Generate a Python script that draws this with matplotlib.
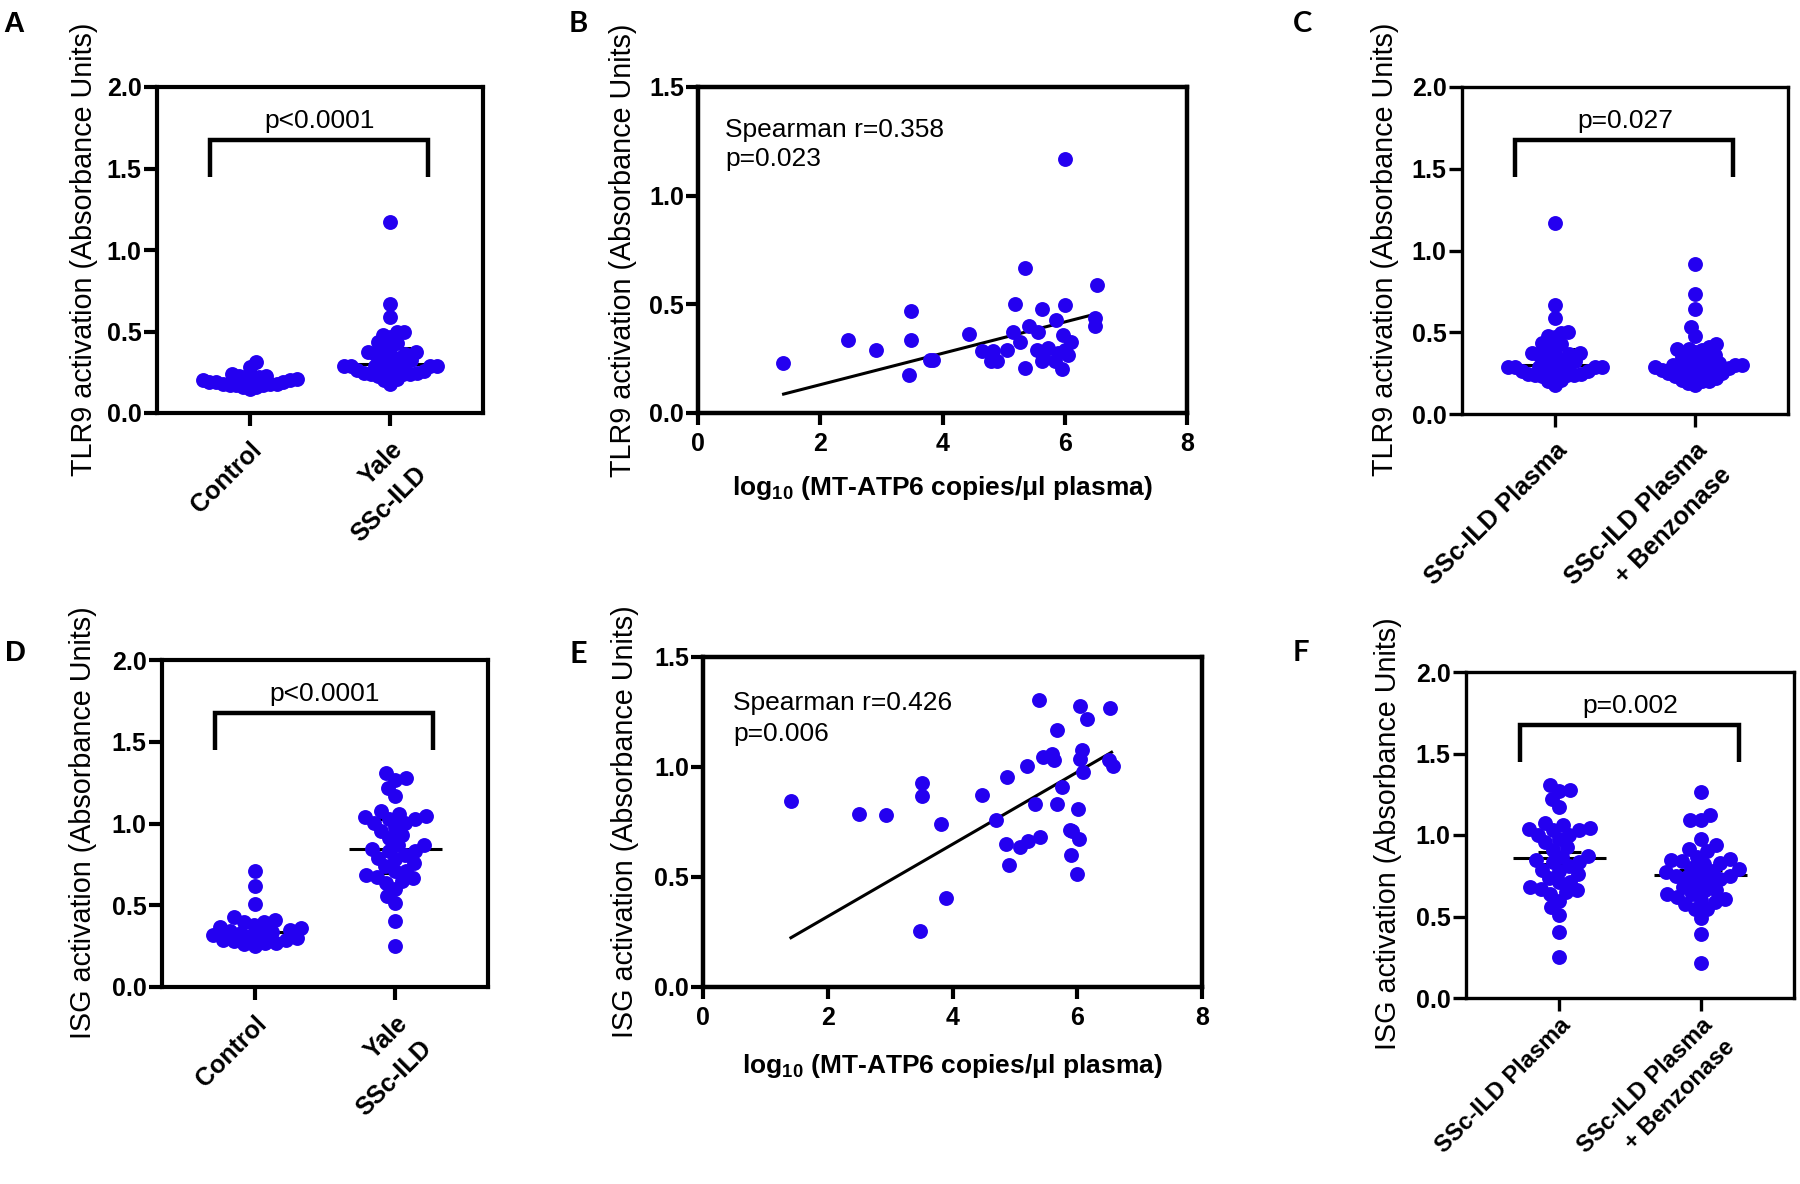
import numpy as np
import matplotlib
matplotlib.use("Agg")
import matplotlib.pyplot as plt
from matplotlib.font_manager import FontProperties

plt.rcParams['font.family'] = ['Liberation Sans', 'DejaVu Sans']
plt.rcParams['mathtext.default'] = 'regular'

# ---- data ----
tlr9_control = [0.31, 0.28, 0.24, 0.23, 0.23, 0.22, 0.22, 0.21, 0.21, 0.20, 0.20, 0.19,
                0.19, 0.19, 0.18, 0.18, 0.18, 0.17, 0.17, 0.17, 0.16, 0.16, 0.15]
# SSc-ILD plasma: TLR9 activation and log10 MT-ATP6 (same subjects, panels A/B/C)
tlr9_ssc = [1.17, 0.667, 0.588, 0.50, 0.497, 0.48, 0.469, 0.437, 0.429, 0.40, 0.40, 0.364,
            0.372, 0.372, 0.36, 0.336, 0.336, 0.325, 0.325, 0.29, 0.29, 0.283, 0.286, 0.29,
            0.30, 0.29, 0.275, 0.245, 0.245, 0.24, 0.24, 0.24, 0.237, 0.23, 0.206, 0.203,
            0.175, 0.26, 0.265]
mtdna_tlr9 = [6.01, 5.35, 6.53, 5.18, 6.00, 5.62, 3.48, 6.49, 5.85, 5.41, 6.49, 4.44,
              5.16, 5.57, 5.97, 2.46, 3.49, 5.27, 6.10, 2.92, 5.05, 4.64, 4.83, 5.54,
              5.72, 6.00, 5.89, 3.80, 3.85, 4.80, 4.89, 5.62, 5.84, 1.39, 5.35, 5.96,
              3.46, 5.65, 6.05]
tlr9_benz = [0.915, 0.733, 0.641, 0.531, 0.477, 0.426, 0.41, 0.40, 0.40, 0.39, 0.38, 0.36,
             0.35, 0.34, 0.33, 0.32, 0.31, 0.31, 0.30, 0.30, 0.30, 0.29, 0.29, 0.28, 0.28,
             0.27, 0.27, 0.26, 0.26, 0.25, 0.25, 0.24, 0.23, 0.22, 0.21, 0.20, 0.20, 0.19, 0.18]

isg_control = [0.71, 0.62, 0.51, 0.43, 0.41, 0.40, 0.40, 0.38, 0.37, 0.36, 0.35, 0.34, 0.335,
               0.33, 0.33, 0.32, 0.31, 0.30, 0.29, 0.29, 0.28, 0.27, 0.27, 0.26, 0.25]
# SSc-ILD plasma: ISG activation and log10 MT-ATP6 (panels D/E/F)
isg_ssc = [0.844, 0.788, 0.780, 0.927, 0.868, 0.739, 0.406, 0.253, 0.871, 0.758, 0.955,
           0.648, 0.556, 0.635, 0.664, 0.682, 1.003, 0.833, 1.306, 1.045, 1.061, 1.03, 1.17,
           0.909, 0.833, 0.712, 0.71, 0.598, 0.512, 0.808, 0.671, 1.276, 1.22, 1.076, 1.038,
           0.977, 1.268, 1.03, 1.003]
mtdna_isg = [1.41, 2.50, 2.94, 3.51, 3.51, 3.82, 3.89, 3.48, 4.48, 4.70, 4.87, 4.85, 4.90,
             5.08, 5.21, 5.40, 5.19, 5.32, 5.38, 5.45, 5.59, 5.63, 5.67, 5.76, 5.67, 5.89,
             5.92, 5.90, 6.00, 6.02, 6.03, 6.05, 6.15, 6.07, 6.05, 6.09, 6.52, 6.51, 6.58]
isg_benz = [1.266, 1.125, 1.09, 1.09, 0.977, 0.94, 0.913, 0.90, 0.868, 0.85, 0.848, 0.84,
            0.83, 0.82, 0.80, 0.79, 0.78, 0.77, 0.76, 0.75, 0.75, 0.74, 0.73, 0.72, 0.70,
            0.68, 0.66, 0.66, 0.64, 0.64, 0.62, 0.61, 0.60, 0.59, 0.575, 0.545, 0.545,
            0.49, 0.393, 0.216]

# fitted lines as drawn in the figure (end points)
fit_x_tlr9 = [1.40, 6.50]
fit_y_tlr9 = [0.087, 0.455]
fit_x_isg = [1.41, 6.55]
fit_y_isg = [0.224, 1.067]

cats_cohort = ['Control', 'Yale\nSSc-ILD']
cats_benz = ['SSc-ILD Plasma', 'SSc-ILD Plasma\n+ Benzonase']
p_texts = ['p<0.0001', 'p=0.027', 'p<0.0001', 'p=0.002']
spearman_texts = [('Spearman r=0.358', 'p=0.023'), ('Spearman r=0.426', 'p=0.006')]
ylab_tlr9 = 'TLR9 activation (Absorbance Units)'
ylab_isg = 'ISG activation (Absorbance Units)'
xlab_mt = r'log$_{\mathregular{10}}$ (MT-ATP6 copies/μl plasma)'
bar_ticks = [0, 0.5, 1.0, 1.5, 2.0]
sc_yticks = [0, 0.5, 1.0, 1.5]
sc_xticks = [0, 2, 4, 6, 8]

BLUE = '#2400F0'
DOT = 115
W, H = 1800, 1184
fig = plt.figure(figsize=(W / 100, H / 100), dpi=100)

fp_tick = FontProperties(family='Liberation Sans', weight='bold', size=18)
fp_xlab = FontProperties(family='Liberation Sans', weight='bold', size=19)


def add_ax(l, t, r, b):
    return fig.add_axes([l / W, 1 - b / H, (r - l) / W, (b - t) / H])


def ftext(x, y, s, **kw):
    return fig.text(x / W, 1 - y / H, s, **kw)


def swarm_offsets(ax, xc, vals, diam=14.5, gap=0.72, maxw=0.335):
    vals = np.asarray(vals, float)
    ypix = ax.transData.transform(np.column_stack([np.full(vals.size, xc), vals]))[:, 1]
    ppu = ax.transData.transform([[1, 0]])[0, 0] - ax.transData.transform([[0, 0]])[0, 0]
    dmin = diam * gap
    steps = np.arange(1, 400)
    px, py = [], []
    offs = np.zeros(vals.size)
    for k, i in enumerate(np.argsort(vals, kind='stable')):
        y = ypix[i]
        sgn = 1 if k % 2 == 0 else -1
        cands = np.concatenate([[0], np.column_stack([sgn * steps, -sgn * steps]).ravel()])
        best = 0
        if px:
            qx = np.array(px)
            qy = np.array(py)
            near = np.abs(qy - y) < dmin
            qx, qy = qx[near], qy[near]
            for c in cands:
                if np.all((c - qx) ** 2 + (y - qy) ** 2 >= dmin ** 2):
                    best = c
                    break
        px.append(best)
        py.append(y)
        offs[i] = best / ppu
    widest = np.abs(offs).max()
    if widest > maxw:
        offs *= maxw / widest
    return offs


def summary(ax, xc, vals, stat):
    vals = np.asarray(vals, float)
    if stat == 'median':
        mid = np.median(vals)
        lo, hi = np.percentile(vals, [25, 75])
    else:
        mid = vals.mean()
        sem = vals.std(ddof=1) / np.sqrt(vals.size)
        lo, hi = mid - sem, mid + sem
    kw = dict(color='k', lw=2.2, zorder=2, solid_capstyle='butt')
    ax.plot([xc - 0.33, xc + 0.33], [mid, mid], **kw)
    ax.plot([xc - 0.15, xc + 0.15], [hi, hi], **kw)
    ax.plot([xc - 0.15, xc + 0.15], [lo, lo], **kw)
    ax.plot([xc, xc], [lo, hi], **kw)


def bar_panel(rect, groups, cats, ptext, stat, lw, catpad=8, catsize=18, catls=1.55):
    ax = add_ax(*rect)
    ax.set_xlim(-0.66, 1.66)
    ax.set_ylim(0, 2)
    ax.set_yticks(bar_ticks)
    ax.set_yticklabels(['%.1f' % v for v in bar_ticks], fontproperties=fp_tick)
    ax.set_xticks([0, 1])
    fp_cat = FontProperties(family='Liberation Sans', weight='bold', size=catsize)
    ax.set_xticklabels(cats, fontproperties=fp_cat, rotation=45, ha='right', va='top',
                       rotation_mode='anchor', linespacing=catls)
    ax.tick_params(axis='y', length=9.5, width=lw, pad=1.5)
    ax.tick_params(axis='x', length=9.5, width=lw, pad=catpad)
    for s in ax.spines.values():
        s.set_linewidth(lw)
    for i, vals in enumerate(groups):
        summary(ax, i, vals, stat)
        offs = swarm_offsets(ax, i, vals)
        ax.scatter(i + offs, vals, s=DOT, color=BLUE, linewidths=0, zorder=3)
    ax.plot([-0.28, -0.28, 1.27, 1.27], [1.45, 1.675, 1.675, 1.45], color='k', lw=3.2,
            solid_joinstyle='miter', solid_capstyle='butt')
    ax.text(0.5, 1.75, ptext, ha='center', va='baseline', fontsize=19)
    return ax


def scatter_panel(rect, x, y, fx, fy):
    ax = add_ax(*rect)
    ax.set_xlim(0, 8)
    ax.set_ylim(0, 1.5)
    ax.set_xticks(sc_xticks)
    ax.set_xticklabels([str(v) for v in sc_xticks], fontproperties=fp_tick)
    ax.set_yticks(sc_yticks)
    ax.set_yticklabels(['%.1f' % v for v in sc_yticks], fontproperties=fp_tick)
    ax.tick_params(axis='y', length=8.5, width=3, pad=1.5)
    ax.tick_params(axis='x', length=8.5, width=3, pad=5)
    for s in ax.spines.values():
        s.set_linewidth(3.2)
    ax.scatter(x, y, s=DOT, color=BLUE, linewidths=0, zorder=3)
    ax.plot(fx, fy, color='k', lw=2.2, zorder=2)
    return ax


# ---- panels ----
bar_panel((157, 87, 483, 413), [tlr9_control, tlr9_ssc], cats_cohort, p_texts[0], 'median', 3)
scatter_panel((698, 87, 1187, 413), mtdna_tlr9, tlr9_ssc, fit_x_tlr9, fit_y_tlr9)
bar_panel((1462, 87, 1788, 414), [tlr9_ssc, tlr9_benz], cats_benz, p_texts[1], 'median', 2.4)
bar_panel((162, 660, 488, 987), [isg_control, isg_ssc], cats_cohort, p_texts[2], 'median', 3)
scatter_panel((703, 657, 1202, 987), mtdna_isg, isg_ssc, fit_x_isg, fit_y_isg)
bar_panel((1466, 672, 1794, 998), [isg_ssc, isg_benz], cats_benz, p_texts[3], 'mean', 2.4,
          catpad=2, catsize=17, catls=1.45)

# y labels
ylab_kw = dict(rotation=90, ha='center', va='center', fontsize=20.7)
ftext(84, 249, ylab_tlr9, **ylab_kw)
ftext(623, 250, ylab_tlr9, **ylab_kw)
ftext(1385, 249, ylab_tlr9, **ylab_kw)
ftext(83, 823, ylab_isg, **ylab_kw)
ftext(625, 822, ylab_isg, **ylab_kw)
ftext(1388, 834, ylab_isg, **ylab_kw)

# scatter x labels and Spearman notes
ftext(942, 488, xlab_mt, ha='center', va='center', fontproperties=fp_xlab)
ftext(952, 1066, xlab_mt, ha='center', va='center', fontproperties=fp_xlab)
ftext(725, 137, spearman_texts[0][0], ha='left', va='baseline', fontsize=19)
ftext(725, 166, spearman_texts[0][1], ha='left', va='baseline', fontsize=19)
ftext(733, 710, spearman_texts[1][0], ha='left', va='baseline', fontsize=19)
ftext(733, 741, spearman_texts[1][1], ha='left', va='baseline', fontsize=19)

# panel letters
lat = ['Lato', 'Liberation Sans']
ftext(3, 32, 'A', fontsize=21, fontweight='bold', va='baseline')
ftext(569, 32, 'B', fontsize=21, fontweight='bold', va='baseline', family=lat)
ftext(1293, 32, 'C', fontsize=21, fontweight='bold', va='baseline', family=lat)
ftext(5, 661, 'D', fontsize=21, fontweight='bold', va='baseline')
ftext(569, 663, 'E', fontsize=22, fontweight='bold', va='baseline', family=lat)
ftext(1293, 661, 'F', fontsize=21, fontweight='bold', va='baseline', family=lat)

fig.savefig('out.png', dpi=100, facecolor='white')
